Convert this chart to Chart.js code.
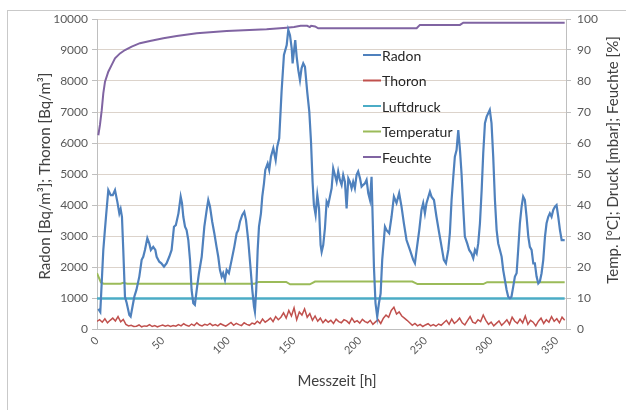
<!DOCTYPE html>
<html lang="de">
<head>
    <meta charset="UTF-8">
    <title>Radon / Thoron Messung</title>
    <script src="https://cdn.jsdelivr.net/npm/chart.js"></script>
    <style>
        html, body { margin: 0; padding: 0; background: #fff; }
        #box { position: relative; width: 626px; height: 410px; overflow: hidden; }
        #rahmen { position: absolute; left: 7px; top: 10px; right: -2px; bottom: -2px;
                  border-left: 1px solid #c9c9c9; border-top: 1px solid #c9c9c9; }
        #grafico { position: absolute; left: 0; top: 0; }
    </style>
</head>
<body>
<div id="box">
    <div id="rahmen"></div>
    <canvas id="grafico" width="626" height="410"></canvas>
</div>

<script>
    // Achsen / Beschriftungen
    const xTicks = [0, 50, 100, 150, 200, 250, 300, 350];
    const yLinksTicks = [0, 1000, 2000, 3000, 4000, 5000, 6000, 7000, 8000, 9000, 10000];
    const yRechtsTicks = [0, 10, 20, 30, 40, 50, 60, 70, 80, 90, 100];
    const serien = ['Radon', 'Thoron', 'Luftdruck', 'Temperatur', 'Feuchte'];
    const farben = ['#4f81bd', '#c0504d', '#4bacc6', '#9bbb59', '#8064a2'];

    // Radon [Bq/m3]
    const radonStunden = [1, 2.5, 4.8, 6, 7, 8.6, 10.4, 12, 13.7, 15.5, 17, 18, 19, 20, 21.3, 22.6, 24.6, 25.6, 27, 28.4,
        30, 32.2, 34, 35.2, 36.5, 38.3, 39.8, 41, 42.8, 44.4, 45.4, 47.4, 49, 51, 53, 55, 56.8, 58.6, 60, 62,
        63.7, 64.7, 65.7, 67, 68.2, 69.5, 70.8, 72, 73.3, 74.5, 75.9, 77.6, 79.7, 81.7, 83.5, 84.7, 86, 87.7, 89.3, 91,
        92.3, 93.6, 94.9, 96, 97.4, 98.7, 100.4, 102.5, 104.5, 106.3, 107.5, 108.8, 110.6, 112.1, 113.4, 115.1, 117, 118.2, 119.5, 120.2,
        121.2, 122.3, 123.3, 124.8, 125.8, 127.1, 128.1, 129.9, 131.1, 132.4, 134.2, 136, 137.2, 138.7, 140.5, 142.3, 144.4, 145.6, 146.9, 148.2,
        148.9, 149.9, 150.9, 152, 153.2, 154.5, 155.7, 157, 158.3, 160, 161.6, 162.9, 164.1, 165.1, 166.4, 167.7, 169, 170.2, 171, 172.2,
        173.5, 174.8, 176, 177.3, 178.6, 179.8, 181.1, 182.4, 183.6, 184.9, 186.2, 187.4, 188.7, 190, 191.3, 192.5, 193.8, 195, 196.3, 197.6,
        198.8, 200.2, 201.4, 202.7, 204, 205.2, 206.5, 207.8, 209, 209.8, 210.8, 212, 213.3, 214.6, 215.9, 217.1, 219.2, 220.4, 222.4, 224.2,
        226, 228, 230, 231.8, 233.6, 235.6, 238.2, 240.7, 242, 243.3, 245.3, 247, 248.3, 249.6, 250.8, 253.4, 254.6, 256.5, 258.4, 260.5,
        262.3, 264, 265.6, 267.4, 268.6, 269.9, 271.2, 272.4, 273.7, 275, 276.3, 277.5, 278.8, 280, 281.8, 283.3, 285, 286.4, 287.7, 289,
        290.2, 291.5, 292.8, 294, 295.3, 296.6, 297.8, 299, 300.3, 301.6, 302.9, 304.2, 305.4, 306.7, 308, 309.2, 310.5, 311.8, 313, 314.3,
        315.5, 316.8, 318.1, 319.4, 320.6, 321.9, 323.2, 324.4, 325.7, 327, 328.3, 329.5, 330.8, 332.1, 333.3, 334.6, 335.9, 337.1, 338.4, 339.7,
        341, 342.2, 343.5, 344.7, 346, 347.3, 348.6, 349.8, 351.1, 352.4, 353.7, 356];
    const radonWerte = [650, 550, 2550, 3190, 3700, 4480, 4320, 4320, 4480, 4100, 3730, 3870, 3620, 2550, 1040, 840, 450, 400, 720, 1040,
        1260, 1690, 2230, 2330, 2550, 2930, 2760, 2550, 2650, 2550, 2330, 2170, 2120, 2010, 2120, 2330, 2550, 3300, 3350, 3730,
        4270, 4060, 3620, 3300, 3190, 2870, 2230, 1260, 830, 780, 1260, 1800, 2330, 3300, 3840, 4160, 3950, 3460, 3090, 2650,
        2330, 1900, 1690, 1800, 1580, 1900, 1800, 2230, 2650, 3090, 3190, 3460, 3680, 3780, 3520, 2870, 1900, 1260, 720, 560,
        1260, 2550, 3300, 3730, 4270, 4700, 5130, 5340, 5130, 5560, 5830, 5450, 5880, 6150, 7660, 8840, 9160, 9650, 9480, 9050,
        8570, 8950, 9320, 8780, 8360, 8030, 8410, 8570, 8460, 7660, 7010, 6040, 4750, 4000, 3680, 4320, 3890, 2710, 2490, 2710,
        3250, 4110, 4000, 4270, 4540, 5180, 4970, 4750, 5080, 4810, 4650, 4970, 4750, 3890, 4860, 4750, 4540, 4750, 4540, 4970,
        5080, 4860, 4590, 4650, 4700, 4810, 4380, 4160, 4910, 3620, 2010, 830, 400, 830, 1150, 2230, 3300, 3190, 3090, 3620,
        4270, 4060, 4380, 3950, 3410, 2870, 2550, 2230, 2120, 2550, 3190, 3840, 4060, 3730, 4060, 4430, 4270, 4160, 3620, 3090,
        2650, 2230, 2120, 2550, 3090, 4160, 4910, 5560, 5770, 6420, 5770, 5000, 3900, 2980, 2760, 2550, 2440, 2280, 2550, 2440,
        2760, 3410, 4480, 5670, 6640, 6850, 6960, 7070, 6640, 5560, 4160, 3190, 2760, 2550, 2330, 1900, 1580, 1260, 1040, 990,
        1040, 1360, 1690, 1800, 2550, 3410, 3950, 4270, 4160, 3620, 2980, 2650, 2550, 2120, 2120, 1690, 1470, 1530, 1800, 2230,
        2980, 3410, 3620, 3730, 3620, 3840, 3950, 4000, 3620, 3190, 2870, 2870];

    // Thoron [Bq/m3], alle 2 h
    const thoronStunden = Array.from({ length: 179 }, (_, i) => i * 2);
    const thoronWerte = [250, 300, 220, 330, 200, 280, 350, 260, 400, 230, 310,
        150, 100, 120, 80, 90, 130, 70, 100, 90, 140, 80, 110, 70, 100, 130, 90, 120, 80, 110, 90,
        140, 100, 170, 120, 90, 160, 110, 200, 130, 100, 150, 120, 180, 110, 140, 100, 170, 130, 90, 150, 210, 120, 180, 140, 110, 200, 150, 120, 190, 160,
        250, 180, 320, 220, 280, 350, 240, 400, 300,
        380, 520, 350, 600, 420, 680, 300, 550, 450, 650, 380, 500, 280, 420,
        250, 350, 200, 300, 220, 280, 180, 320, 240, 200, 300, 260, 180, 350, 220, 270, 190, 310, 240, 200, 280, 150, 230,
        300, 180, 350, 450, 380, 600, 700, 480, 550, 420, 350, 280,
        200, 120, 180, 100, 150, 80, 130, 170, 100, 140, 90, 160, 120,
        200, 280, 150, 320, 180, 250, 350, 200, 130, 270, 400, 220, 180, 300, 240, 450, 280, 150, 220, 100, 180, 260, 120, 200,
        300, 150, 380, 250, 180, 320, 200, 420, 150, 280, 220, 100, 250, 350, 180, 300, 220, 400, 250, 330, 200, 380, 280];

    // Luftdruck [mbar]
    const druckStunden = [0, 356];
    const druckWerte = [985, 985];

    // Temperatur [°C]
    const tempStunden = [0, 1, 3, 5, 18, 20, 23, 120, 123, 144, 147, 162, 166, 240, 244, 294, 297, 356];
    const tempWerte = [18, 17, 15, 14.6, 14.6, 14.9, 14.6, 14.6, 15.2, 15.2, 14.4, 14.4, 15.3, 15.3, 14.5, 14.5, 15.1, 15.1];

    // Feuchte [%]
    const feuchteStunden = [1, 2.3, 3.6, 4.8, 6.1, 8.6, 11.2, 13.7, 17.5, 21.3, 26.4, 32.7, 40.3, 50.5, 60.7, 75.9, 98.7, 129.1,
        144.3, 150, 155, 160, 162, 163, 166, 168.4, 243.3, 245.8, 276.3, 278.8, 356];
    const feuchteWerte = [62.5, 66, 70.6, 76, 79.8, 83, 85.2, 87.3, 88.9, 90, 91.1, 92.2, 92.9, 93.8, 94.5, 95.4, 96.1, 96.7,
        97.2, 97.4, 97.8, 97.8, 97.4, 97.8, 97.6, 97, 97, 98.1, 98.1, 98.8, 98.8];

    const tituloEsq = 'Radon [Bq/m³]; Thoron [Bq/m³]';
    const tituloDir = 'Temp. [°C]; Druck [mbar]; Feuchte [%]';
    const tituloX = 'Messzeit [h]';

    function pontos(xs, ys) {
        return xs.map((x, i) => ({ x: x, y: ys[i] }));
    }

    Chart.defaults.font.family = 'Lato, "Open Sans", sans-serif';

    // Achsentitel und Legende selbst zeichnen (rechter Titel liest von unten nach oben)
    const extras = {
        id: 'extras',
        afterDraw(chart) {
            const ctx = chart.ctx;
            ctx.save();
            ctx.fillStyle = '#404040';
            ctx.textAlign = 'center';
            ctx.textBaseline = 'middle';
            ctx.font = '15px Lato';

            ctx.save();
            ctx.translate(45, 176);
            ctx.rotate(-Math.PI / 2);
            ctx.fillText(tituloEsq, 0, 0);
            ctx.restore();

            ctx.save();
            ctx.translate(613, 160);
            ctx.rotate(-Math.PI / 2);
            ctx.fillText(tituloDir, 0, 0);
            ctx.restore();

            ctx.font = '15px Lato';
            ctx.fillText(tituloX, 337, 381);

            // Legende im Diagramm
            ctx.font = '14px Lato';
            ctx.textAlign = 'left';
            serien.forEach((nome, i) => {
                const y = 55 + i * 25.5;
                ctx.strokeStyle = farben[i];
                ctx.lineWidth = 2;
                ctx.beginPath();
                ctx.moveTo(363, y);
                ctx.lineTo(381, y);
                ctx.stroke();
                ctx.fillStyle = '#262626';
                ctx.fillText(nome, 382, y + 1);
            });
            ctx.restore();
        }
    };

    const dados = {
        datasets: [
            { label: serien[0], data: pontos(radonStunden, radonWerte), borderColor: farben[0], borderWidth: 2.2, yAxisID: 'y' },
            { label: serien[1], data: pontos(thoronStunden, thoronWerte), borderColor: farben[1], borderWidth: 1.5, yAxisID: 'y' },
            { label: serien[2], data: pontos(druckStunden, druckWerte), borderColor: farben[2], borderWidth: 2.5, yAxisID: 'y' },
            { label: serien[3], data: pontos(tempStunden, tempWerte), borderColor: farben[3], borderWidth: 2, yAxisID: 'y2' },
            { label: serien[4], data: pontos(feuchteStunden, feuchteWerte), borderColor: farben[4], borderWidth: 2, yAxisID: 'y2' }
        ]
    };

    const config = {
        type: 'line',
        data: dados,
        options: {
            responsive: false,
            animation: false,
            layout: { padding: { top: 19, left: 0, right: 0, bottom: 0 } },
            elements: { point: { radius: 0 }, line: { tension: 0 } },
            plugins: { legend: { display: false }, tooltip: { enabled: false } },
            scales: {
                x: {
                    type: 'linear',
                    min: 0,
                    max: 357,
                    afterBuildTicks: s => { s.ticks = xTicks.map(v => ({ value: v })); },
                    afterFit: s => { s.height = 81; },
                    ticks: { minRotation: 45, maxRotation: 45, color: '#595959', font: { size: 11 }, padding: 5,
                             callback: v => String(v) },
                    grid: { drawOnChartArea: false, drawTicks: false },
                    border: { color: '#bfbfbf' }
                },
                y: {
                    position: 'left',
                    min: 0,
                    max: 10000,
                    afterBuildTicks: s => { s.ticks = yLinksTicks.map(v => ({ value: v })); },
                    afterFit: s => { s.width = 97; },
                    ticks: { color: '#595959', font: { size: 12 }, padding: 4, callback: v => String(v) },
                    grid: { color: '#dcd3cb', tickLength: 5, tickColor: '#bfbfbf' },
                    border: { color: '#bfbfbf' }
                },
                y2: {
                    position: 'right',
                    min: 0,
                    max: 100,
                    afterBuildTicks: s => { s.ticks = yRechtsTicks.map(v => ({ value: v })); },
                    afterFit: s => { s.width = 60; },
                    ticks: { color: '#595959', font: { size: 12 }, padding: 6, callback: v => String(v) },
                    grid: { drawOnChartArea: false, tickLength: 5, color: '#bfbfbf' },
                    border: { color: '#bfbfbf' }
                }
            }
        },
        plugins: [extras]
    };

    new Chart(document.getElementById('grafico').getContext('2d'), config);
</script>
</body>
</html>
